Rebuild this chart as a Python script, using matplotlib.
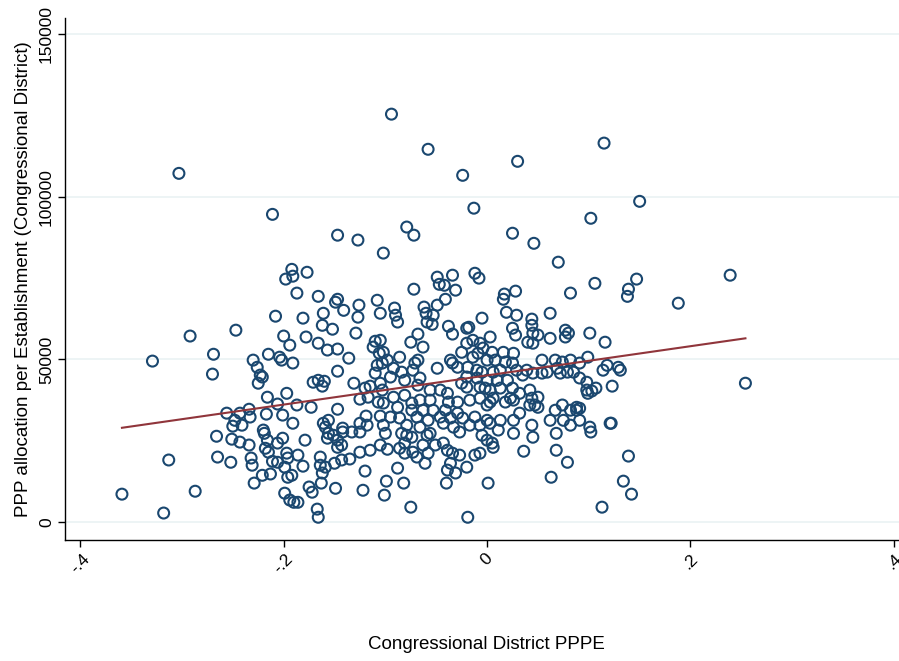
import numpy as np
import matplotlib
matplotlib.use("Agg")
import matplotlib.pyplot as plt

plt.rcParams['font.family'] = ['Liberation Sans', 'DejaVu Sans']

# ---- data (x = Congressional District PPPE, y = PPP allocation per establishment, in thousands) ----
x_sparse = [-0.359, -0.318, -0.313, -0.287, -0.329, -0.303, -0.292, -0.269, -0.270, -0.266, -0.265, -0.247,
            -0.211, -0.094, -0.058, -0.024, -0.013, 0.030, 0.115, 0.150, 0.102, 0.025, 0.046, 0.070, 0.239,
            0.147, 0.106, 0.139, 0.138, 0.082, 0.028, 0.017, 0.016, 0.188, 0.019, 0.029, 0.062, 0.044]
y_sparse = [8.6, 2.8, 19.1, 9.5, 49.5, 107.2, 57.2, 51.6, 45.5, 26.4, 20.0, 59.0,
            94.6, 125.4, 114.6, 106.6, 96.5, 110.9, 116.5, 98.6, 93.4, 88.8, 85.7, 79.9, 75.9,
            74.7, 73.4, 71.6, 69.4, 70.4, 71.0, 70.1, 68.5, 67.3, 64.5, 63.6, 64.2, 62.4]

x_upper = [-0.192, -0.198, -0.191, -0.187, -0.208,
           -0.147, -0.127, -0.079, -0.072, -0.102, -0.177, -0.166, -0.149, -0.147, -0.141, -0.161, -0.126,
           -0.108, -0.105, -0.091, -0.072, -0.049, -0.034, -0.047, -0.042, -0.031, -0.041, -0.049, -0.062,
           -0.012, -0.008, -0.005, -0.181]
y_upper = [77.7, 74.7, 75.6, 70.4, 63.3,
           88.2, 86.7, 90.7, 88.2, 82.7, 76.8, 69.4, 67.6, 68.5, 65.1, 64.2, 66.7,
           68.2, 64.2, 65.8, 71.6, 75.3, 75.9, 73.1, 72.8, 71.3, 68.5, 66.7, 66.1,
           76.5, 75.0, 62.7, 62.7]

x_left_mid = [-0.200, -0.230, -0.226, -0.215, -0.204, -0.202, -0.223, -0.225, -0.221, -0.197, -0.216,
              -0.206, -0.256, -0.243, -0.234, -0.233, -0.217, -0.201, -0.248, -0.250, -0.241, -0.220]
y_left_mid = [57.2, 49.8, 47.6, 51.6, 50.7, 49.8, 45.2, 42.7, 44.6, 39.6, 38.4,
              36.3, 33.5, 33.5, 34.7, 32.3, 33.2, 32.9, 31.3, 29.5, 29.8, 28.3]

x_left_low = [-0.252, -0.251, -0.243, -0.234, -0.232, -0.231, -0.229, -0.221, -0.213, -0.219, -0.216,
              -0.218, -0.215, -0.211, -0.206, -0.206, -0.201, -0.197, -0.199, -0.196, -0.199, -0.194]
y_left_low = [18.4, 25.5, 24.6, 23.7, 19.7, 17.5, 12.0, 14.4, 14.8, 27.3, 25.2,
              22.7, 21.5, 18.7, 18.4, 24.3, 25.8, 21.2, 16.9, 13.8, 8.9, 6.8]

x_cl_low = [-0.179, -0.186, -0.196, -0.181, -0.192, -0.164, -0.164, -0.159, -0.162, -0.150, -0.143,
            -0.135, -0.175, -0.172, -0.163, -0.149, -0.190, -0.186, -0.167, -0.166, -0.120, -0.122,
            -0.099, -0.101, -0.125, -0.115, -0.105, -0.098, -0.156, -0.151, -0.147, -0.143, -0.142,
            -0.133, -0.125, -0.100, -0.157, -0.147]
y_cl_low = [25.2, 20.6, 19.7, 17.2, 14.4, 20.0, 17.5, 16.9, 15.1, 18.1, 19.1,
            19.4, 10.8, 9.2, 12.0, 10.4, 6.1, 6.1, 4.0, 1.5, 15.7, 9.8,
            12.6, 8.3, 21.5, 22.1, 23.7, 22.4, 27.3, 26.7, 25.2, 23.7, 27.7,
            27.7, 27.7, 27.3, 25.8, 23.0]

x_c_low = [-0.084, -0.079, -0.074, -0.066, -0.056, -0.059, -0.033, -0.027, -0.017, -0.005, 0.000,
           -0.086, -0.081, -0.073, -0.069, -0.061, -0.058, -0.051, -0.043, -0.039, -0.034, -0.027,
           -0.036, -0.039, -0.031, -0.020, -0.012, -0.088, -0.082, -0.040, -0.075, -0.019, 0.001,
           -0.081, -0.063]
y_c_low = [27.3, 26.7, 26.1, 29.2, 27.3, 26.7, 29.2, 27.7, 29.8, 26.7, 25.2,
           22.7, 21.2, 21.5, 20.0, 18.1, 21.2, 23.7, 24.3, 22.1, 21.2, 20.6,
           18.1, 16.0, 15.1, 16.9, 20.6, 16.6, 12.0, 12.0, 4.6, 1.5, 12.0,
           24.3, 23.7]

x_cr_low = [0.003, 0.011, 0.005, 0.006, 0.026, 0.045, 0.068, 0.036, 0.068, 0.079, 0.063, -0.007]
y_cr_low = [30.4, 28.3, 24.3, 23.0, 27.3, 26.1, 27.3, 21.8, 22.1, 18.4, 13.8, 21.2]

x_right = [0.116, 0.099, 0.118, 0.114, 0.129, 0.131, 0.103, 0.107, 0.123, 0.254, 0.091, 0.101,
           0.102, 0.121, 0.122, 0.139, 0.134, 0.142, 0.113]
y_right = [55.3, 50.7, 48.2, 46.7, 47.6, 46.7, 40.3, 41.2, 41.8, 42.7, 35.0, 29.2,
           27.7, 30.4, 30.4, 20.3, 12.6, 8.6, 4.6]

x_cl_mid = [-0.162, -0.152, -0.194, -0.178, -0.166, -0.157, -0.147, -0.136, -0.129, -0.191, -0.147,
            -0.110, -0.112, -0.106, -0.098, -0.108, -0.110, -0.103, -0.171, -0.166, -0.160, -0.162,
            -0.187, -0.173, -0.131, -0.120, -0.115, -0.105, -0.125, -0.117, -0.107, -0.147, -0.191,
            -0.161, -0.156, -0.159, -0.142, -0.125, -0.119, -0.118, -0.105, -0.102, -0.127]
y_cl_mid = [60.5, 59.3, 54.4, 56.9, 55.0, 52.9, 53.2, 50.4, 58.1, 48.9, 46.4,
            55.6, 53.8, 51.9, 49.8, 48.2, 45.8, 48.9, 43.0, 43.6, 43.3, 41.8,
            36.0, 35.3, 42.7, 41.2, 41.8, 42.7, 37.8, 38.4, 36.9, 34.7, 30.4,
            30.4, 31.3, 29.2, 28.9, 30.4, 32.6, 29.8, 32.6, 29.8, 63.0]

x_c_mid = [-0.090, -0.088, -0.060, -0.053, -0.059, -0.054, -0.038, -0.034, -0.020, -0.018, -0.068,
           -0.075, -0.063, -0.105, -0.102, -0.086, -0.071, -0.068, -0.073, -0.092, -0.095, -0.084,
           -0.081, -0.066, -0.068, -0.049, -0.036, -0.034, -0.029, -0.025, -0.020, -0.014, -0.007,
           -0.009, -0.014, 0.000, -0.019, -0.010, -0.020, -0.010, -0.025, -0.020, -0.007, -0.103,
           -0.092, -0.081, -0.056, -0.046, -0.039, -0.038, -0.029, -0.017, -0.007, -0.102, -0.088,
           -0.074, -0.066, -0.056, -0.074, -0.063, -0.053, -0.041, -0.029, -0.095, -0.086, -0.069,
           -0.058, -0.046, -0.036, -0.024, -0.012, 0.000, -0.079, -0.043, -0.007]
y_c_mid = [63.6, 61.5, 64.2, 63.6, 61.5, 60.8, 60.2, 57.8, 59.6, 59.9, 57.8,
           55.3, 53.8, 55.9, 52.2, 50.7, 48.9, 49.8, 46.7, 47.3, 44.6, 46.1,
           43.6, 44.3, 42.1, 47.3, 49.8, 48.9, 47.6, 52.2, 55.0, 55.9, 55.0,
           51.9, 50.7, 49.8, 47.6, 46.7, 44.6, 44.3, 42.7, 41.5, 41.5, 40.6,
           38.4, 39.0, 40.6, 40.6, 39.6, 36.9, 36.9, 37.5, 38.1, 36.6, 35.3,
           36.6, 37.5, 37.5, 34.4, 34.4, 34.4, 34.4, 33.5, 32.3, 32.0, 32.3,
           31.3, 32.3, 32.0, 32.0, 32.3, 31.3, 29.8, 30.4, 29.8]

x_cr_mid = [0.025, 0.028, 0.044, 0.045, 0.050, 0.040, 0.045, 0.062, 0.077, 0.080, 0.077, 0.101,
            0.003, -0.004, 0.005, 0.016, 0.026, 0.008, 0.018, 0.025, 0.054, 0.067, 0.074, 0.082,
            0.091, -0.005, 0.006, 0.013, 0.029, 0.039, 0.045, 0.054, 0.059, 0.069, 0.072, 0.079,
            0.085, 0.091, 0.098, 0.000, 0.010, 0.020, 0.035, -0.002, 0.003, 0.013, 0.025, 0.032,
            0.042, 0.006, 0.023, 0.026, 0.044, 0.050, 0.000, 0.003, 0.018, 0.042, 0.047, 0.050,
            0.067, 0.074, 0.082, 0.088, 0.088, 0.098, 0.099, 0.013, 0.026, 0.032, 0.044, 0.062,
            0.075, 0.082, 0.091]
y_cr_mid = [59.6, 57.5, 60.5, 58.1, 57.5, 55.3, 55.0, 56.5, 59.0, 58.1, 56.9, 58.1,
            56.9, 53.5, 52.2, 52.2, 51.9, 49.8, 49.2, 48.9, 49.8, 49.8, 49.2, 49.8,
            48.9, 46.1, 46.1, 46.7, 46.7, 46.7, 45.8, 45.8, 46.1, 47.3, 45.8, 46.1,
            46.1, 44.3, 43.0, 43.6, 43.6, 43.6, 45.2, 41.2, 40.6, 41.2, 41.2, 39.6,
            40.6, 38.1, 38.1, 37.5, 38.1, 38.4, 36.0, 36.9, 36.9, 36.0, 36.0, 35.3,
            34.4, 36.0, 34.4, 35.3, 34.4, 40.6, 39.6, 31.3, 31.3, 33.5, 29.8, 31.3,
            31.3, 29.8, 31.3]

# fitted line endpoints (x, y in thousands)
fit_x = [-0.359, 0.254]
fit_y = [29.0, 56.5]

xs = np.array(x_sparse + x_upper + x_left_mid + x_left_low + x_cl_low + x_c_low + x_cr_low
              + x_right + x_cl_mid + x_c_mid + x_cr_mid)
ys = np.array(y_sparse + y_upper + y_left_mid + y_left_low + y_cl_low + y_c_low + y_cr_low
              + y_right + y_cl_mid + y_c_mid + y_cr_mid) * 1000.0

x_ticks = [-0.4, -0.2, 0.0, 0.2, 0.4]
x_tick_labels = ['-.4', '-.2', '0', '.2', '.4']
y_ticks = [0, 50000, 100000, 150000]
y_tick_labels = ['0', '50000', '100000', '150000']

navy = '#1a476f'
maroon = '#90353b'

fig = plt.figure(figsize=(8.99, 6.61), dpi=100)
ax = fig.add_axes([0.0723, 0.183, 0.9277, 0.790])

ax.scatter(xs, ys, s=62, facecolors='none', edgecolors=navy, linewidths=1.5, zorder=3)

ax.plot(fit_x, np.array(fit_y) * 1000.0, color=maroon, lw=1.5, zorder=4)

ax.set_xlim(-0.415, 0.405)
ax.set_ylim(-5500, 155000)
ax.set_yticks(y_ticks)
ax.set_yticklabels(y_tick_labels, rotation=90, va='center', fontsize=12.5)
ax.set_xticks(x_ticks)
ax.set_xticklabels(x_tick_labels, rotation=45, ha='center', fontsize=12.5)
ax.tick_params(axis='both', direction='out', length=5, width=1, color='black', pad=3)
ax.grid(axis='y', color='#eaf2f3', lw=1.2, zorder=0)
ax.set_axisbelow(True)
for s in ['top', 'right']:
    ax.spines[s].set_visible(False)
for s in ['left', 'bottom']:
    ax.spines[s].set_linewidth(1)
    ax.spines[s].set_color('black')

ax.set_ylabel('PPP allocation per Establishment (Congressional District)', fontsize=13.5, labelpad=5)
fig.text(0.541, 0.012, 'Congressional District PPPE', ha='center', va='bottom', fontsize=13.5)

fig.savefig('out.png', dpi=100, facecolor='white')
